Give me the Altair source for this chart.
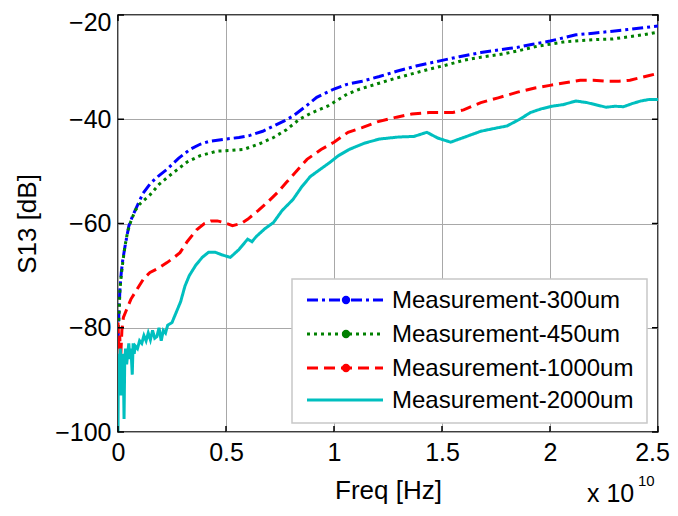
import altair as alt
import pandas as pd

# ---- data (frequency in units of 1e10 Hz, S13 in dB) ----
SERIES = ["Measurement-300um", "Measurement-450um", "Measurement-1000um", "Measurement-2000um"]
COLORS = ["#0000FF", "#008000", "#FF0000", "#00BFBF"]
DASHES = [[11, 4, 3, 4], [3, 4], [11, 6], [1, 0]]

F_300 = [0, 0.002, 0.005, 0.009, 0.015, 0.022, 0.032, 0.05, 0.068, 0.09, 0.116, 0.15, 0.19, 0.227,
         0.28, 0.333, 0.38, 0.426, 0.5, 0.56, 0.611, 0.67, 0.72, 0.77, 0.81, 0.87, 0.92, 0.97, 1.0,
         1.06, 1.13, 1.21, 1.29, 1.38, 1.49, 1.58, 1.68, 1.76, 1.85, 1.92, 2.0, 2.06, 2.12, 2.2,
         2.29, 2.36, 2.42, 2.5]
S_300 = [-83, -79.8, -76, -72.7, -69.5, -67, -64.5, -60.5, -58.5, -56.5, -54.2, -52.3, -50.8, -49.6,
         -47.5, -45.8, -44.8, -44.2, -43.8, -43.5, -43.1, -42.3, -41.3, -40.3, -39.4, -37.5, -35.8,
         -34.8, -34.2, -33.3, -32.7, -31.8, -30.8, -29.8, -28.8, -28.0, -27.2, -26.7, -26.2, -25.6,
         -25.0, -24.4, -23.8, -23.5, -23.1, -22.8, -22.5, -22.1]

F_450 = [0, 0.004, 0.009, 0.015, 0.022, 0.032, 0.045, 0.06, 0.08, 0.1, 0.148, 0.19, 0.227, 0.27,
         0.32, 0.38, 0.46, 0.52, 0.58, 0.65, 0.72, 0.78, 0.84, 0.9, 0.97, 1.06, 1.12, 1.2, 1.28,
         1.36, 1.44, 1.52, 1.6, 1.68, 1.78, 1.86, 1.94, 2.0, 2.06, 2.14, 2.22, 2.29, 2.36, 2.43, 2.5]
S_450 = [-80, -78.5, -72.7, -70, -67.5, -64.4, -61.5, -59.5, -57.5, -56.3, -54.5, -52.5, -51.2,
         -49.8, -48.2, -47, -46.1, -46, -45.8, -44.8, -43.5, -42, -40, -38.7, -37.5, -35.2, -34.2,
         -33.2, -32.2, -31.3, -30.4, -29.6, -28.7, -28.1, -27.5, -26.8, -26.0, -25.6, -25.2, -24.9,
         -24.7, -24.6, -24.2, -23.8, -23.3]

F_1000 = [0, 0.004, 0.008, 0.012, 0.018, 0.025, 0.04, 0.06, 0.087, 0.12, 0.148, 0.19, 0.227, 0.26,
          0.287, 0.32, 0.364, 0.4, 0.43, 0.46, 0.49, 0.53, 0.57, 0.6, 0.65, 0.69, 0.74, 0.78, 0.83,
          0.875, 0.94, 1.0, 1.065, 1.13, 1.2, 1.29, 1.36, 1.44, 1.55, 1.6, 1.68, 1.76, 1.85, 1.93,
          2.0, 2.07, 2.14, 2.2, 2.26, 2.32, 2.37, 2.42, 2.46, 2.5]
S_1000 = [-79, -84, -81.5, -86, -80.5, -78, -76.5, -74.5, -72.7, -70.5, -69.4, -68.5, -67.5, -66.5,
          -65.6, -63.5, -61.2, -60, -59.5, -59.5, -59.8, -60.4, -60, -59.2, -57.5, -56, -54, -52.1,
          -49.8, -47.7, -45.8, -44.4, -42.5, -41.6, -40.5, -39.6, -39, -38.7, -38.7, -38.2, -36.8,
          -35.9, -34.8, -34, -33.5, -33, -32.5, -32.5, -32.7, -32.7, -32.5, -32, -31.6, -31.2]

F_2000 = [0, 0.002, 0.004, 0.006, 0.008, 0.011, 0.014, 0.017, 0.02, 0.024, 0.028, 0.031, 0.035,
          0.04, 0.045, 0.05, 0.055, 0.06, 0.066, 0.07, 0.075, 0.08, 0.09, 0.1, 0.11, 0.12, 0.13,
          0.14, 0.15, 0.16, 0.17, 0.18, 0.19, 0.2, 0.21, 0.22, 0.23, 0.25, 0.27, 0.29, 0.31, 0.33,
          0.36, 0.39, 0.42, 0.45, 0.48, 0.52, 0.56, 0.6, 0.62, 0.64, 0.68, 0.72, 0.76, 0.81, 0.85,
          0.89, 0.94, 0.98, 1.02, 1.07, 1.14, 1.21, 1.3, 1.37, 1.43, 1.48, 1.54, 1.6, 1.68, 1.75,
          1.8, 1.86, 1.91, 1.96, 2.01, 2.06, 2.12, 2.17, 2.22, 2.26, 2.3, 2.34, 2.38, 2.42, 2.46, 2.5]
S_2000 = [-100, -85, -92, -86, -90, -84, -93, -86, -91, -85, -97.5, -87, -84, -87, -85, -83, -86,
          -84, -89, -83, -85, -83.5, -84, -82.5, -83, -81.5, -82.5, -81, -82.3, -80.5, -82, -81.7,
          -80, -82.5, -80.5, -81, -79.5, -79, -77, -75, -72, -70, -68, -66.5, -65.5, -65.5, -66,
          -66.5, -65, -63, -63.5, -62.5, -61, -59.8, -57.5, -55.4, -53, -51, -49.5, -48.3, -47,
          -45.8, -44.6, -43.8, -43.4, -43.3, -42.5, -43.6, -44.4, -43.5, -42.3, -41.7, -41.3, -40,
          -38.7, -38, -37.5, -37.2, -36.5, -36.8, -37.3, -37.7, -37.5, -37.6, -37, -36.5, -36.2, -36.2]

X_TICKS = [0, 0.5, 1, 1.5, 2, 2.5]
Y_TICKS = [-100, -80, -60, -40, -20]

frames = []
for name, f, s in [(SERIES[0], F_300, S_300), (SERIES[1], F_450, S_450),
                   (SERIES[2], F_1000, S_1000), (SERIES[3], F_2000, S_2000)]:
    frames.append(pd.DataFrame({"freq": f, "s13": s, "series": name}))
df = pd.concat(frames, ignore_index=True)

FONT = "Liberation Sans"
W, H = 540, 417

X_AXIS = alt.Axis(values=X_TICKS, labelExpr="datum.value + ''", title="Freq [Hz]",
                  grid=True, ticks=False, domain=False, labelPadding=8,
                  labelFlush=False, titlePadding=12,
                  labelOffset={"condition": {"test": "datum.value == 2.5", "value": -6},
                               "value": 0})
Y_AXIS = alt.Axis(values=Y_TICKS, title="S13 [dB]", grid=True, ticks=False,
                  domain=False, labelPadding=7, titlePadding=14, labelFlush=False,
                  labelOffset={"condition": {"test": "datum.value == -20", "value": 7},
                               "value": 0})
X_SCALE = alt.Scale(domain=[0, 2.5], nice=False)
Y_SCALE = alt.Scale(domain=[-100, -20], nice=False)

lines = alt.Chart(df).mark_line(strokeWidth=3, clip=True).encode(
    x=alt.X("freq:Q", scale=X_SCALE, axis=X_AXIS),
    y=alt.Y("s13:Q", scale=Y_SCALE, axis=Y_AXIS),
    color=alt.Color("series:N", scale=alt.Scale(domain=SERIES, range=COLORS), legend=None),
    strokeDash=alt.StrokeDash("series:N", scale=alt.Scale(domain=SERIES, range=DASHES), legend=None),
    detail="series:N",
)

layers = [lines]

# inward tick marks on all four sides (MATLAB box style)
xt = pd.DataFrame({"freq": X_TICKS})
yt = pd.DataFrame({"s13": Y_TICKS})
layers.append(alt.Chart(xt).mark_rule(color="black", strokeWidth=1.5).encode(
    x=alt.X("freq:Q", scale=X_SCALE, axis=X_AXIS), y=alt.value(H), y2=alt.value(H - 6)))
layers.append(alt.Chart(xt).mark_rule(color="black", strokeWidth=1.5).encode(
    x=alt.X("freq:Q", scale=X_SCALE, axis=X_AXIS), y=alt.value(0), y2=alt.value(6)))
layers.append(alt.Chart(yt).mark_rule(color="black", strokeWidth=1.5).encode(
    y=alt.Y("s13:Q", scale=Y_SCALE, axis=Y_AXIS), x=alt.value(0), x2=alt.value(6)))
layers.append(alt.Chart(yt).mark_rule(color="black", strokeWidth=1.5).encode(
    y=alt.Y("s13:Q", scale=Y_SCALE, axis=Y_AXIS), x=alt.value(W), x2=alt.value(W - 6)))

# ---- legend box (drawn in the MATLAB style) ----
LX0, LX1, LY0, LY1 = 174, 529, 264, 408
ROW_Y = [285, 319, 353, 385]
box = alt.Chart(pd.DataFrame({"k": [0]})).mark_rect(
    fill="white", stroke="#c8c8c8", strokeWidth=1.5).encode(
    x=alt.value(LX0), x2=alt.value(LX1), y=alt.value(LY0), y2=alt.value(LY1))
layers.append(box)
for i, name in enumerate(SERIES):
    one = pd.DataFrame({"name": [name]})
    layers.append(alt.Chart(one).mark_rule(strokeWidth=3, color=COLORS[i], strokeDash=DASHES[i]).encode(
        x=alt.value(189), x2=alt.value(265), y=alt.value(ROW_Y[i])))
    if i < 3:
        layers.append(alt.Chart(one).mark_point(filled=True, size=70, opacity=1, color=COLORS[i]).encode(
            x=alt.value(228), y=alt.value(ROW_Y[i])))
    layers.append(alt.Chart(one).mark_text(align="left", baseline="middle", font=FONT, fontSize=24,
                                           color="black").encode(
        x=alt.value(274), y=alt.value(ROW_Y[i] + 1), text="name:N"))

exp = pd.DataFrame({"t": ["x 10"], "e": ["10"]})
layers.append(alt.Chart(exp).mark_text(align="left", baseline="alphabetic", font=FONT, fontSize=25,
                                       color="black").encode(
    x=alt.value(469), y=alt.value(487), text="t:N"))
layers.append(alt.Chart(exp).mark_text(align="left", baseline="alphabetic", font=FONT, fontSize=15,
                                       color="black").encode(
    x=alt.value(520), y=alt.value(471), text="e:N"))

chart = alt.layer(*layers).properties(
    width=W, height=H,
    background="white",
    autosize=alt.AutoSizeParams(type="none"),
    padding={"left": 110, "top": 7, "right": 12, "bottom": 76},
).configure_view(stroke="black", strokeWidth=1.5).configure_axis(
    labelFont=FONT, titleFont=FONT, labelFontSize=25, titleFontSize=26,
    labelColor="black", titleColor="black", titleFontWeight="normal",
    gridColor="#a8a8a8", gridWidth=1, gridOpacity=1,
)

chart.save("out.html", embed_options={"renderer": "svg", "actions": False})
